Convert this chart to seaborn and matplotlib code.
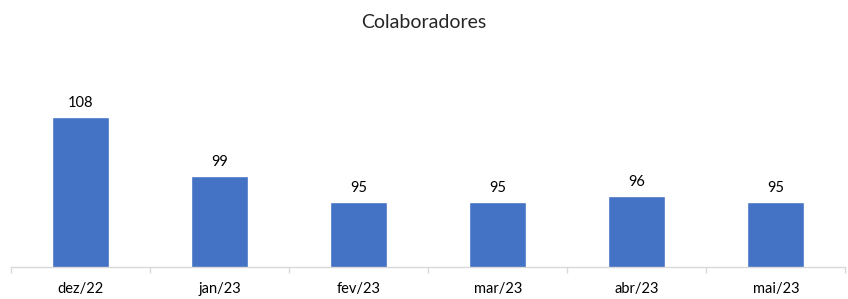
import pandas as pd
import matplotlib.pyplot as plt
import seaborn as sns
import numpy as np

meses = ['dez/22', 'jan/23', 'fev/23', 'mar/23', 'abr/23', 'mai/23']
colaboradores = [108, 99, 95, 95, 96, 95]

df = pd.DataFrame({'mes': meses, 'colaboradores': colaboradores})

sns.set_style("white")
plt.rcParams['font.family'] = ['Lato', 'DejaVu Sans']

fig = plt.figure(figsize=(8.48, 2.99), dpi=100)
ax = fig.add_axes([0.013, 0.107, 0.984, 0.693])

sns.barplot(x='mes', y='colaboradores', data=df, color='#4472C4', width=0.41,
            saturation=1, ax=ax)

for i, v in enumerate(colaboradores):
    ax.annotate(str(v), (i, v), xytext=(0, 5), textcoords='offset points',
                ha='center', va='bottom', fontsize=10.5, color='#000000')

ax.set_ylim(85.2, 116.6)
ax.set_xlim(-0.5, len(meses) - 0.5)
ax.set_xlabel('')
ax.set_ylabel('')
ax.set_yticks([])
for s in ['top', 'right', 'left']:
    ax.spines[s].set_visible(False)
ax.spines['bottom'].set_color('#d9d9d9')
ax.spines['bottom'].set_linewidth(1)

ax.set_xticks(np.arange(-0.5, len(meses)), minor=True)
ax.tick_params(axis='x', which='minor', bottom=True, length=4, width=1,
               color='#d9d9d9', direction='out')
ax.tick_params(axis='x', which='major', length=0, labelsize=10.5, pad=11, labelcolor='#000000')

fig.text(0.5, 0.925, 'Colaboradores', ha='center', va='center', fontsize=14)

fig.savefig('out.png', dpi=100)
